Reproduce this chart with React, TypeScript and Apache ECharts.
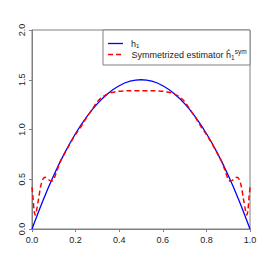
import React, { useEffect, useRef } from "react";
import * as echarts from "echarts";

const trueX = [0, 0.05, 0.1, 0.15, 0.2, 0.25, 0.3, 0.35, 0.4, 0.45, 0.5, 0.55, 0.6, 0.65, 0.7, 0.75, 0.8, 0.85, 0.9, 0.95, 1.0];
const trueY = [0, 0.285, 0.54, 0.765, 0.96, 1.125, 1.26, 1.365, 1.44, 1.485, 1.5, 1.485, 1.44, 1.365, 1.26, 1.125, 0.96, 0.765, 0.54, 0.285, 0];

const estX = [
  0, 0.005, 0.01, 0.015, 0.02, 0.03, 0.04, 0.05, 0.06, 0.07, 0.08, 0.09, 0.1, 0.11, 0.12, 0.13, 0.15, 0.175, 0.2, 0.225,
  0.25, 0.275, 0.3, 0.325, 0.35, 0.375, 0.4, 0.45, 0.5, 0.55, 0.6, 0.625, 0.65, 0.675, 0.7, 0.725, 0.75, 0.775, 0.8,
  0.825, 0.85, 0.87, 0.88, 0.89, 0.9, 0.91, 0.92, 0.93, 0.94, 0.95, 0.96, 0.97, 0.98, 0.985, 0.99, 0.995, 1.0,
];
const estY = [
  0.42, 0.3, 0.18, 0.14, 0.18, 0.3, 0.43, 0.5, 0.52, 0.51, 0.49, 0.48, 0.5, 0.56, 0.62, 0.68, 0.76, 0.86, 0.95, 1.03,
  1.12, 1.2, 1.28, 1.33, 1.36, 1.375, 1.385, 1.39, 1.39, 1.39, 1.385, 1.375, 1.36, 1.33, 1.28, 1.2, 1.12, 1.03, 0.95,
  0.86, 0.76, 0.68, 0.62, 0.56, 0.5, 0.48, 0.49, 0.51, 0.52, 0.5, 0.43, 0.3, 0.18, 0.14, 0.18, 0.3, 0.42,
];

const xTicks = [0, 0.2, 0.4, 0.6, 0.8, 1.0];
const yTicks = [0, 0.5, 1.0, 1.5, 2.0];

const FONT = "'Liberation Sans', Arial, sans-serif";

export default function App() {
  const ref = useRef<HTMLDivElement>(null);
  useEffect(() => {
    if (!ref.current) return;
    const chart = echarts.init(ref.current, undefined, { renderer: "svg" });
    const axisColor = "#808080";
    const textColor = "#222";
    chart.setOption({
      animation: false,
      backgroundColor: "#fff",
      textStyle: { fontFamily: FONT },
      grid: { left: 32, right: 16, top: 30, bottom: 37, show: true, borderColor: axisColor, borderWidth: 1 },
      xAxis: {
        type: "value",
        min: xTicks[0],
        max: xTicks[xTicks.length - 1],
        interval: 0.2,
        splitLine: { show: false },
        axisLine: { show: true, lineStyle: { color: axisColor } },
        axisTick: { show: true, length: 3, lineStyle: { color: axisColor } },
        axisLabel: { color: textColor, fontSize: 9, fontFamily: FONT, margin: 6, formatter: (v: number) => v.toFixed(1) },
      },
      yAxis: {
        type: "value",
        min: yTicks[0],
        max: yTicks[yTicks.length - 1],
        interval: 0.5,
        splitLine: { show: false },
        axisLine: { show: true, lineStyle: { color: axisColor } },
        axisTick: { show: true, length: 3, lineStyle: { color: axisColor } },
        axisLabel: { color: textColor, fontSize: 9, fontFamily: FONT, margin: 6, rotate: 90, formatter: (v: number) => v.toFixed(1) },
      },
      series: [
        {
          name: "h1",
          type: "line",
          data: trueX.map((x, i) => [x, trueY[i]]),
          showSymbol: false,
          smooth: 0.4,
          lineStyle: { color: "#0000ff", width: 1.3 },
          z: 2,
        },
        {
          name: "est",
          type: "line",
          data: estX.map((x, i) => [x, estY[i]]),
          showSymbol: false,
          smooth: 0.3,
          lineStyle: { color: "#ff0000", width: 1.5, type: [5, 3] },
          z: 3,
        },
      ],
      graphic: [
        {
          type: "rect",
          shape: { x: 103, y: 30, width: 147, height: 35 },
          style: { fill: "#fff", stroke: axisColor, lineWidth: 1 },
          z: 10,
        },
        {
          type: "line",
          shape: { x1: 108, y1: 43.5, x2: 123, y2: 43.5 },
          style: { stroke: "#0000ff", lineWidth: 1.3 },
          z: 11,
        },
        {
          type: "line",
          shape: { x1: 108, y1: 54.5, x2: 123, y2: 54.5 },
          style: { stroke: "#ff0000", lineWidth: 1.5, lineDash: [5, 3] },
          z: 11,
        },
        {
          type: "text",
          x: 131,
          y: 43.5,
          style: {
            text: "{n|h}{sub|1}",
            verticalAlign: "middle",
            fill: textColor,
            rich: {
              n: { fontSize: 9, fontFamily: FONT, fill: textColor },
              sub: { fontSize: 6, fontFamily: FONT, fill: textColor, padding: [5, 0, 0, 0] },
            },
          },
          z: 11,
        },
        {
          type: "text",
          x: 131.5,
          y: 54.5,
          style: {
            text: "{n|Symmetrized estimator ĥ}{sub|1}{sup|sym}",
            verticalAlign: "middle",
            fill: textColor,
            rich: {
              n: { fontSize: 9, fontFamily: FONT, fill: textColor },
              sub: { fontSize: 6.5, fontFamily: FONT, fill: textColor, padding: [5, 0, 0, 0] },
              sup: { fontSize: 6.5, fontFamily: FONT, fill: textColor, padding: [0, 0, 7, 0] },
            },
          },
          z: 11,
        },
      ],
    });
    return () => chart.dispose();
  }, []);
  return <div ref={ref} style={{ position: "fixed", left: 0, top: 0, width: 266, height: 266 }} />;
}
